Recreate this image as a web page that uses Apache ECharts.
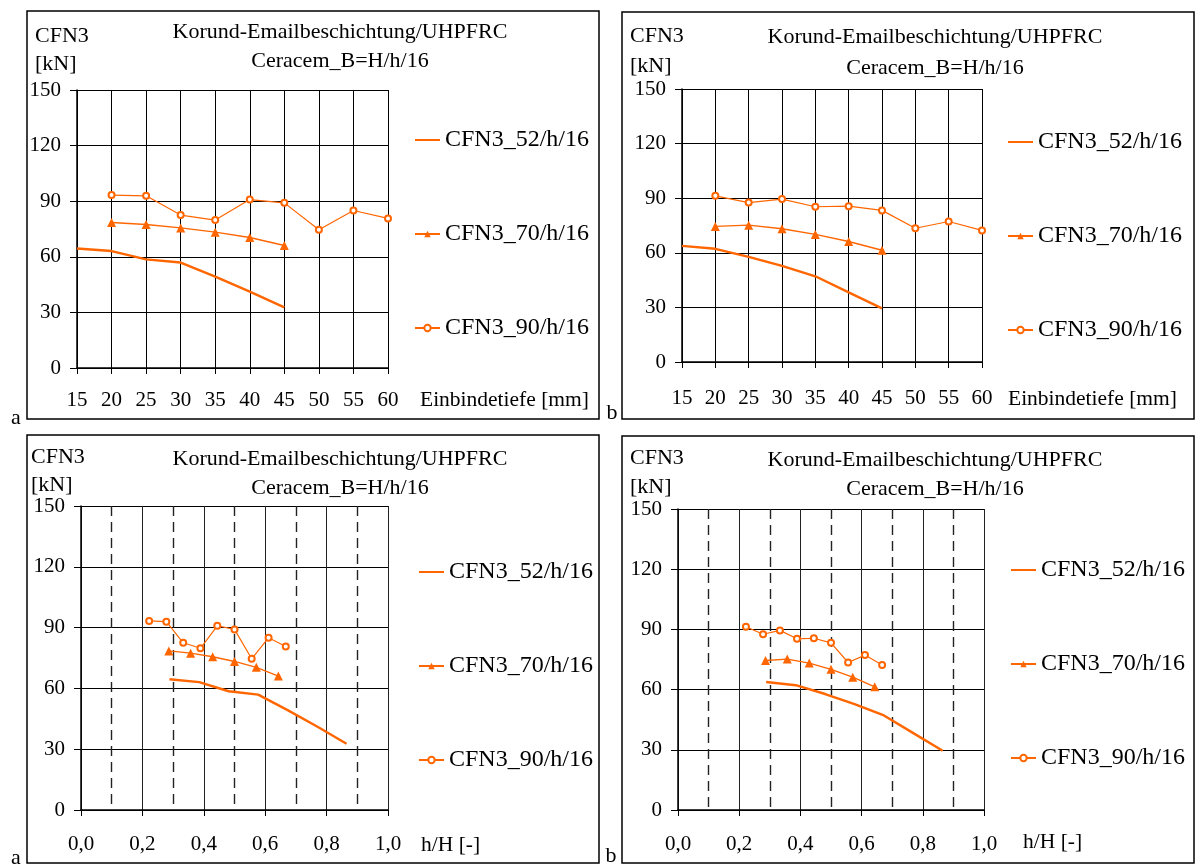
<!DOCTYPE html>
<html>
<head>
<meta charset="utf-8">
<script src="https://cdn.jsdelivr.net/npm/echarts@6/dist/echarts.min.js"></script>
<style>
html,body{margin:0;padding:0;background:#fff;}
#c{width:1203px;height:866px;}
</style>
</head>
<body>
<div id="c"></div>
<script>
// ---- data ----
const seriesNames = ['CFN3_52/h/16', 'CFN3_70/h/16', 'CFN3_90/h/16'];
const depth52 = [15, 20, 25, 30, 35, 40, 45];
const depth70 = [20, 25, 30, 35, 40, 45];
const depth90 = [20, 25, 30, 35, 40, 45, 50, 55, 60];
const ratio52 = [0.288, 0.385, 0.481, 0.577, 0.673, 0.769, 0.865];
const ratio70 = [0.286, 0.357, 0.429, 0.500, 0.571, 0.643];
const ratio90 = [0.222, 0.278, 0.333, 0.389, 0.444, 0.500, 0.556, 0.611, 0.667];
const forceA52 = [64.5, 63.1, 58.6, 56.9, 49.3, 41.2, 32.7];
const forceA70 = [78.5, 77.4, 75.6, 73.3, 70.4, 66.1];
const forceA90 = [93.3, 92.9, 82.5, 79.8, 90.9, 89.1, 74.6, 85.0, 80.7];
const forceB52 = [63.8, 62.2, 57.8, 52.8, 47.1, 38.3, 29.5];
const forceB70 = [74.5, 75.2, 73.2, 70.1, 66.2, 61.4];
const forceB90 = [91.3, 87.6, 89.5, 85.3, 85.6, 83.3, 73.5, 77.2, 72.3];
const titleText = 'Korund-Emailbeschichtung/UHPFRC';
const subtitleText = 'Ceracem_B=H/h/16';
const yName1 = 'CFN3';
const yName2 = '[kN]';
const xNameDepth = 'Einbindetiefe [mm]';
const xNameRatio = 'h/H [-]';

// ---- styling / layout ----
const FONT = '"Liberation Serif", "Times New Roman", serif';
const ORANGE = '#FF6600';
const panels = [
  {grid:{left:77, top:90, width:311, height:278}, kind:'depth', f:[forceA52,forceA70,forceA90],
   border:[27,11,572,408], tag:'a', tagPos:[16,418],
   yn:[35,36,64], title:[340,32,61], xname:[420,400], legend:[409,123], xMargin:22},
  {grid:{left:682, top:89, width:300, height:273}, kind:'depth', f:[forceB52,forceB70,forceB90],
   border:[622,12,572,407], tag:'b', tagPos:[612,413],
   yn:[630,36,66], title:[935,37,68], xname:[1008,399], legend:[1002,125], xMargin:26},
  {grid:{left:81, top:506, width:307, height:304}, kind:'ratio', f:[forceA52,forceA70,forceA90],
   border:[27,435,572,428], tag:'a', tagPos:[16,858],
   yn:[31,457,485], title:[340,459,488], xname:[421,845], legend:[413,555], xMargin:24},
  {grid:{left:678, top:509, width:306, height:301}, kind:'ratio', f:[forceB52,forceB70,forceB90],
   border:[622,436,572,427], tag:'b', tagPos:[611,856],
   yn:[630,458,487], title:[935,460,489], xname:[1023,842], legend:[1005,553], xMargin:24}
];

const grids = [], xAxes = [], yAxes = [], series = [], legends = [], graphics = [];

function txt(x, y, text, size, align) {
  return {type:'text', x:x, y:y, silent:true,
    style:{text:text, font: size + 'px ' + FONT, fill:'#000', align:align||'left', verticalAlign:'middle'}};
}

panels.forEach((p, i) => {
  grids.push(Object.assign({containLabel:false}, p.grid));
  const isDepth = p.kind === 'depth';
  xAxes.push({
    type:'value', gridIndex:i,
    min: isDepth ? 15 : 0, max: isDepth ? 60 : 1, interval: isDepth ? 5 : 0.2,
    axisLine:{show:true, onZero:false, lineStyle:{color:'#000', width:1.5}},
    axisTick:{show:true, length:6, inside:false, lineStyle:{color:'#000', width:1}},
    axisLabel:{fontFamily:FONT, fontSize:21, color:'#000', margin:p.xMargin,
      formatter: isDepth ? (v => String(v)) : (v => v.toFixed(1).replace('.', ','))},
    splitLine:{show:true, lineStyle:{color: isDepth ? '#000' : '#222', width:1}},
    minorTick:{show:false, splitNumber:2},
    minorSplitLine:{show:!isDepth, lineStyle:{color:'#222', width:1.4, type:[10,6]}}
  });
  yAxes.push({
    type:'value', gridIndex:i, min:0, max:150, interval:30,
    axisLine:{show:true, onZero:false, lineStyle:{color:'#000', width:1.5}},
    axisTick:{show:true, length:7, inside:false, lineStyle:{color:'#000', width:1}},
    axisLabel:{fontFamily:FONT, fontSize:21, color:'#000', margin:16},
    splitLine:{show:true, lineStyle:{color:'#000', width:1}}
  });
  const xs = isDepth ? [depth52, depth70, depth90] : [ratio52, ratio70, ratio90];
  const styles = [
    {symbol:'none', lineWidth:2.4},
    {symbol:'triangle', symbolSize:9, lineWidth:1.4},
    {symbol:'emptyCircle', symbolSize:6, lineWidth:1.2}
  ];
  seriesNames.forEach((name, k) => {
    const st = styles[k];
    series.push({
      type:'line', name:name, xAxisIndex:i, yAxisIndex:i,
      data: xs[k].map((x, j) => [x, p.f[k][j]]),
      symbol: st.symbol, symbolSize: st.symbolSize || 4, showSymbol: st.symbol !== 'none',
      lineStyle:{color:ORANGE, width:st.lineWidth},
      itemStyle:{color:ORANGE, borderColor:ORANGE, borderWidth: k === 2 ? 1.2 : 0},
      animation:false, silent:true, z:5
    });
  });
  legends.push({
    show:true, orient:'vertical', left:p.legend[0], top:p.legend[1],
    itemWidth:25, itemHeight:8, itemGap:70, selectedMode:false,
    textStyle:{fontFamily:FONT, fontSize:24, color:'#000', lineHeight:24},
    data: [
      {name: seriesNames[0], itemStyle:{opacity:0}},
      {name: seriesNames[1]},
      {name: seriesNames[2]}
    ]
  });
  graphics.push({type:'rect', silent:true, shape:{x:p.border[0], y:p.border[1], width:p.border[2], height:p.border[3]},
    style:{fill:'none', stroke:'#000', lineWidth:1.5}});
  graphics.push(txt(p.tagPos[0], p.tagPos[1], p.tag, 22, 'center'));
  graphics.push(txt(p.yn[0], p.yn[1], yName1, 22));
  graphics.push(txt(p.yn[0], p.yn[2], yName2, 22));
  graphics.push(txt(p.title[0], p.title[1], titleText, 22, 'center'));
  graphics.push(txt(p.title[0], p.title[2], subtitleText, 22, 'center'));
  graphics.push(txt(p.xname[0], p.xname[1], isDepth ? xNameDepth : xNameRatio, 21.5));
});

const chart = echarts.init(document.getElementById('c'), null, {renderer:'canvas'});
chart.setOption({
  backgroundColor:'#fff',
  animation:false,
  grid: grids, xAxis: xAxes, yAxis: yAxes, series: series, legend: legends,
  graphic: graphics
});
</script>
</body>
</html>
